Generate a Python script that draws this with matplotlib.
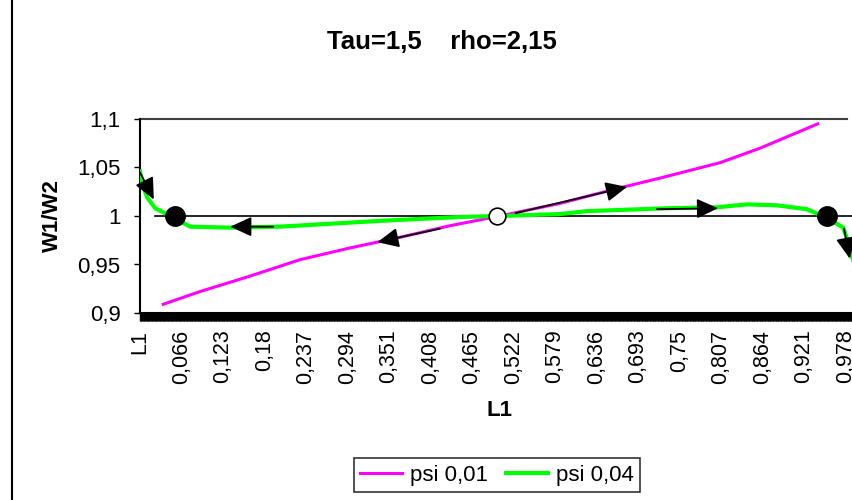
import numpy as np
import matplotlib
matplotlib.use('Agg')
import matplotlib.pyplot as plt
from matplotlib.lines import Line2D

plt.rcParams['font.family'] = ['Liberation Sans', 'DejaVu Sans']

# Dados (L1 vs W1/W2)
psi001_L = [0.041, 0.091, 0.160, 0.229, 0.297, 0.366, 0.435, 0.503, 0.586, 0.668, 0.723, 0.806, 0.861, 0.940]
psi001_W = [0.909, 0.922, 0.938, 0.955, 0.967, 0.978, 0.990, 1.000, 1.013, 1.029, 1.039, 1.055, 1.070, 1.095]

psi004_L = [0.009, 0.013, 0.019, 0.030, 0.043, 0.057, 0.068, 0.078, 0.133, 0.201, 0.270, 0.339, 0.394,
            0.449, 0.503, 0.586, 0.623, 0.733, 0.802, 0.843, 0.884, 0.925, 0.953, 0.975, 0.980, 0.985, 0.991]
psi004_W = [1.046, 1.031, 1.019, 1.008, 1.003, 0.998, 0.993, 0.989, 0.988, 0.989, 0.992, 0.995, 0.997,
            0.999, 1.000, 1.002, 1.005, 1.008, 1.009, 1.012, 1.011, 1.007, 0.998, 0.988, 0.977, 0.962, 0.950]

equil_L = [0.03, 0.99]
equil_W = [1.0, 1.0]

stable_L = [0.057, 0.953]
stable_W = [1.0, 1.0]
unstable_L = [0.5]
unstable_W = [1.0]

# setas: início -> ponta
arrow_start_L = [0.421, 0.525, 0.192, 0.719, 0.009, 0.976]
arrow_start_W = [0.987, 1.003, 0.989, 1.007, 1.045, 0.987]
arrow_end_L = [0.335, 0.678, 0.133, 0.803, 0.028, 0.984]
arrow_end_W = [0.973, 1.030, 0.989, 1.008, 1.017, 0.956]

x_ticks = [0.009, 0.066, 0.123, 0.180, 0.237, 0.294, 0.351, 0.408, 0.465, 0.522,
           0.579, 0.636, 0.693, 0.750, 0.807, 0.864, 0.921, 0.978]
x_labels = ['L1', '0,066', '0,123', '0,18', '0,237', '0,294', '0,351', '0,408', '0,465', '0,522',
            '0,579', '0,636', '0,693', '0,75', '0,807', '0,864', '0,921', '0,978']
y_ticks = [0.9, 0.95, 1.0, 1.05, 1.1]
y_labels = ['0,9', '0,95', '1', '1,05', '1,1']

fs = 16

fig = plt.figure(figsize=(8.52, 5), dpi=100)
ax = fig.add_axes([140 / 852, 187 / 500, 712 / 852, 194 / 500])

ax.plot(equil_L, equil_W, color='black', lw=1.2, zorder=2)
ax.plot(psi001_L, psi001_W, color='#ff00ff', lw=2.2, label='psi 0,01', zorder=3)
ax.plot(psi004_L, psi004_W, color='#00ff00', lw=3, label='psi 0,04', zorder=3)

for x0, y0, x1, y1 in zip(arrow_start_L, arrow_start_W, arrow_end_L, arrow_end_W):
    ax.annotate('', xy=(x1, y1), xytext=(x0, y0),
                arrowprops=dict(arrowstyle='-|>,head_length=0.65,head_width=0.3', mutation_scale=20,
                                color='black', lw=1.3, shrinkA=0, shrinkB=0),
                zorder=4)

ax.plot(stable_L, stable_W, 'o', color='black', ms=14, zorder=5)
ax.plot(unstable_L, unstable_W, 'o', mfc='white', mec='black', mew=1.2, ms=12, zorder=5)

ax.set_xlim(0.009, 0.987)
ax.set_ylim(0.9, 1.1)

ax.set_xticks(x_ticks)
ax.set_xticklabels(x_labels, rotation=90, fontsize=15.5)
ax.set_xticks(np.arange(0.009, 0.9875, 0.001), minor=True)
ax.tick_params(axis='x', which='both', direction='out', length=6, width=1, color='black', pad=6)
ax.set_yticks(y_ticks)
ax.set_yticklabels(y_labels, fontsize=fs)
ax.tick_params(axis='y', which='major', direction='out', length=4, width=1, pad=10)

ax.axhline(1.1, xmax=(847 - 140) / 712, color='#404040', lw=1.5, clip_on=False)
for s in ['top', 'right']:
    ax.spines[s].set_visible(False)
ax.spines['left'].set_linewidth(1.5)
ax.spines['bottom'].set_linewidth(1.5)

fig.text(442 / 852, 1 - 42 / 500, 'Tau=1,5    rho=2,15', ha='center', va='center',
         fontsize=18.5, fontweight='bold')
fig.text(52 / 852, 1 - 216 / 500, 'W1/W2', rotation=90, ha='center', va='center',
         fontsize=fs, fontweight='bold')
fig.text(500 / 852, 1 - 410 / 500, 'L1', ha='center', va='center', fontsize=fs, fontweight='bold')

leg = fig.legend(loc='center', bbox_to_anchor=(497 / 852, 1 - 475 / 500), ncol=2, fontsize=fs,
                 frameon=True, fancybox=False, edgecolor='black', handlelength=1.9,
                 handletextpad=0.35, columnspacing=0.8, borderpad=0.3)
leg.get_frame().set_linewidth(1.2)

fig.add_artist(Line2D([12 / 852, 12 / 852], [0, 1], color='black', lw=1.5))

fig.savefig('out.png', dpi=100)
